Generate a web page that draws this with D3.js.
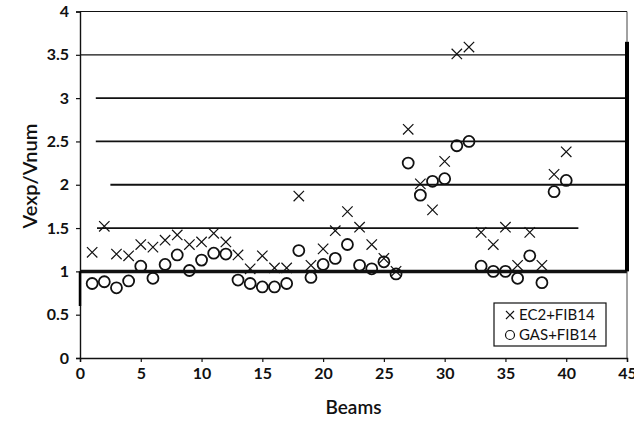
<!DOCTYPE html>
<html>
<head>
<meta charset="utf-8">
<script src="https://cdn.jsdelivr.net/npm/d3@7"></script>
<style>
  body { margin: 0; background: #fff; }
  text { font-family: Lato, "Open Sans", sans-serif; fill: #111; }
</style>
</head>
<body>
<script>
// beam numbers and the two ratio series
var beams = [1,2,3,4,5,6,7,8,9,10,11,12,13,14,15,16,17,18,19,20,
             21,22,23,24,25,26,27,28,29,30,31,32,33,34,35,36,37,38,39,40];
var ec2 = [1.22,1.52,1.20,1.18,1.31,1.28,1.36,1.42,1.31,1.34,1.44,1.34,1.19,1.03,1.18,1.04,1.04,1.87,1.07,1.26,
           1.47,1.69,1.51,1.31,1.15,1.00,2.64,2.01,1.71,2.27,3.51,3.59,1.45,1.31,1.51,1.07,1.45,1.07,2.12,2.38];
var gas = [0.86,0.88,0.81,0.89,1.06,0.92,1.08,1.19,1.01,1.13,1.21,1.20,0.90,0.86,0.82,0.82,0.86,1.24,0.93,1.08,
           1.15,1.31,1.07,1.03,1.11,0.97,2.25,1.88,2.04,2.07,2.45,2.50,1.06,1.00,1.00,0.92,1.18,0.87,1.92,2.05];
var xTicks = [0,5,10,15,20,25,30,35,40,45];
var yTicks = [0,0.5,1,1.5,2,2.5,3,3.5,4];
var gridVals = [1,1.5,2,2.5,3,3.5,4];
var seriesNames = ["EC2+FIB14", "GAS+FIB14"];

var width = 634, height = 423;
var mLeft = 80, mRight = 627, mTop = 11.5, mBottom = 358;

var x = d3.scaleLinear().domain([0,45]).range([mLeft,mRight]);
var y = d3.scaleLinear().domain([0,4]).range([mBottom,mTop]);

var svg = d3.select("body").append("svg")
    .attr("width", width)
    .attr("height", height);

// gridlines (they don't all start at the axis in the original)
var gridStart = {1: 0, 1.5: 1.4, 2: 2.5, 2.5: 1.3, 3: 1.3, 3.5: 0, 4: 0};
var gridEnd = {1.5: 41};
svg.append("g").selectAll("line")
    .data(gridVals)
    .enter().append("line")
    .attr("x1", function(d){ return x(gridStart[d]); })
    .attr("x2", function(d){ return x(gridEnd[d] || 45); })
    .attr("y1", function(d){ return y(d); })
    .attr("y2", function(d){ return y(d); })
    .style("stroke", "#111")
    .style("stroke-width", function(d){ return d == 1 ? 3.5 : (d == 3.5 || d == 4 ? 1.2 : 1.8); });

// right border, thin then heavy from ~3.65 down to 1
svg.append("line")
    .attr("x1", x(45)).attr("x2", x(45))
    .attr("y1", y(4)).attr("y2", y(0))
    .style("stroke", "#444").style("stroke-width", 1);
svg.append("line")
    .attr("x1", x(45)).attr("x2", x(45))
    .attr("y1", y(3.65)).attr("y2", y(1))
    .style("stroke", "#000").style("stroke-width", 4);

// axes
var yAxis = svg.append("g")
    .attr("transform", "translate(" + mLeft + ",0)")
    .call(d3.axisLeft(y).tickValues(yTicks).tickSize(4).tickPadding(7)
        .tickFormat(function(d){ return d; }));
var xAxis = svg.append("g")
    .attr("transform", "translate(0," + mBottom + ")")
    .call(d3.axisBottom(x).tickValues(xTicks).tickSize(4).tickPadding(6));

[yAxis, xAxis].forEach(function(a){
    a.select(".domain").style("stroke", "#111").style("stroke-width", 1.4);
    a.selectAll(".tick line").style("stroke", "#111").style("stroke-width", 1.2);
    a.selectAll("text").style("font-size", "16px").style("fill", "#111")
        .style("font-weight", "bold")
        .style("font-family", "Lato, sans-serif");
});

// heavy bit on the left axis below 1
svg.append("line")
    .attr("x1", mLeft).attr("x2", mLeft)
    .attr("y1", y(1)).attr("y2", y(0.6))
    .style("stroke", "#000").style("stroke-width", 2.5);

// axis titles
svg.append("text")
    .attr("transform", "translate(37," + y(2.1) + ") rotate(-90)")
    .attr("text-anchor", "middle")
    .style("font-size", "20px")
    .style("font-weight", "600")
    .text("Vexp/Vnum");
svg.append("text")
    .attr("x", x(22.5)).attr("y", 414)
    .attr("text-anchor", "middle")
    .style("font-size", "19px")
    .style("font-weight", "600")
    .text("Beams");

function cross(g, cx, cy, s) {
    g.append("path")
        .attr("d", "M" + (cx-s) + "," + (cy-s) + "L" + (cx+s) + "," + (cy+s) +
                   "M" + (cx-s) + "," + (cy+s) + "L" + (cx+s) + "," + (cy-s))
        .style("stroke", "#111").style("stroke-width", 1.2).style("fill", "none");
}

var marks = svg.append("g");
beams.forEach(function(b, i){
    cross(marks, x(b), y(ec2[i]), 5.2);
});
marks.selectAll("circle")
    .data(beams)
    .enter().append("circle")
    .attr("cx", function(d){ return x(d); })
    .attr("cy", function(d, i){ return y(gas[i]); })
    .attr("r", 5.5)
    .style("fill", "none")
    .style("stroke", "#111")
    .style("stroke-width", 1.8);

// legend
var lg = svg.append("g");
lg.append("rect")
    .attr("x", 494).attr("y", 303)
    .attr("width", 112).attr("height", 43)
    .style("fill", "#fff").style("stroke", "#111").style("stroke-width", 1.2);
cross(lg, 510, 315, 4);
lg.append("circle").attr("cx", 510).attr("cy", 335).attr("r", 4.5)
    .style("fill", "none").style("stroke", "#111").style("stroke-width", 1.2);
lg.selectAll("text.lab")
    .data(seriesNames)
    .enter().append("text")
    .attr("class", "lab")
    .attr("x", 519)
    .attr("y", function(d, i){ return 320 + i*20; })
    .style("font-size", "15px")
    .text(function(d){ return d; });
</script>
</body>
</html>
